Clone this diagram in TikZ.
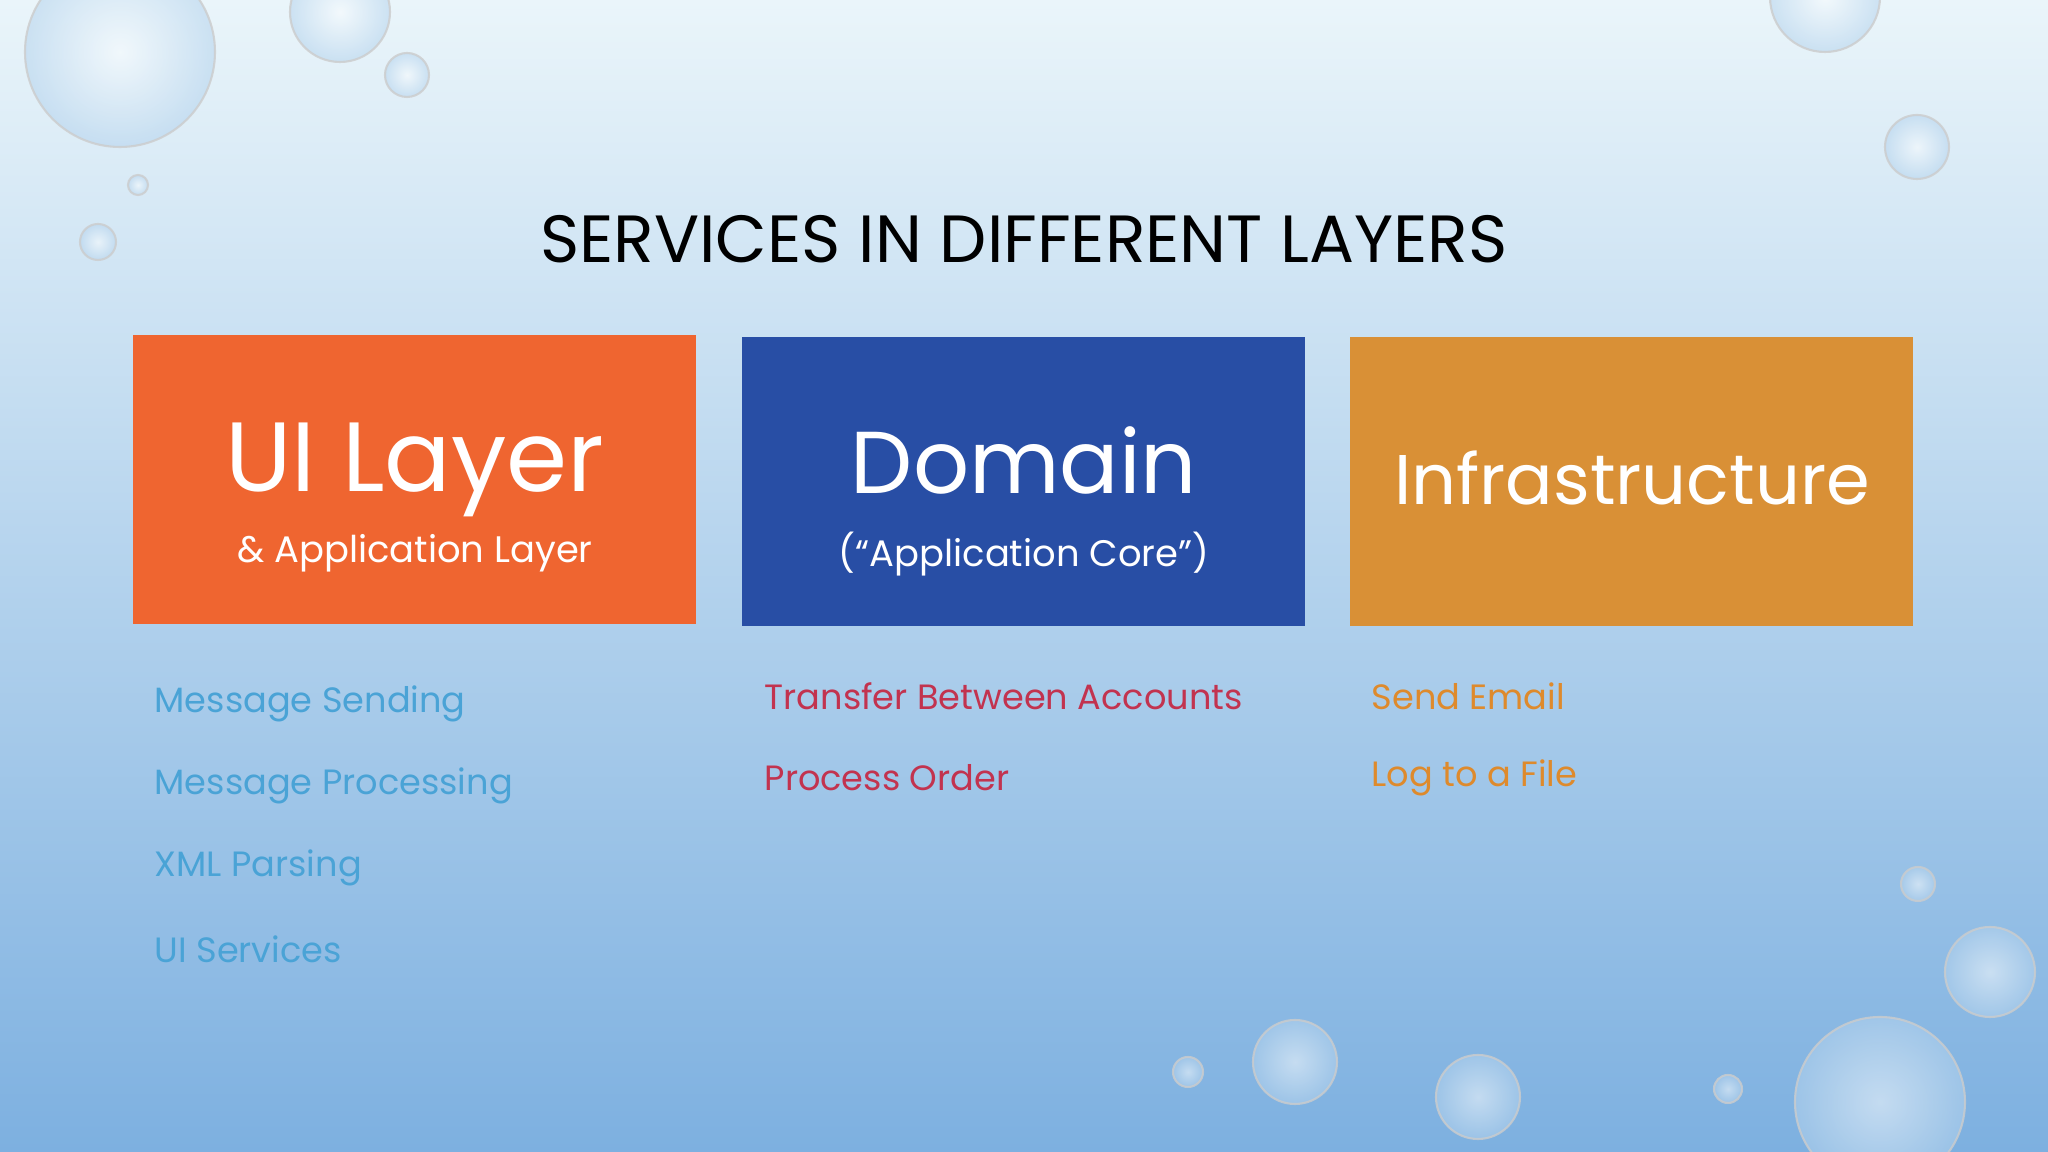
\documentclass[tikz,border=0pt]{standalone}
\usepackage{fontspec}
\setmainfont{Poppins}
\usetikzlibrary{shadings}
\definecolor{uiorange}{HTML}{EF6530}
\definecolor{dblue}{HTML}{284EA5}
\definecolor{infra}{HTML}{D99036}
\definecolor{bgtop}{HTML}{EAF5FA}
\definecolor{bgbot}{HTML}{7DB0E0}
\definecolor{itblue}{HTML}{4AA3D6}
\definecolor{itred}{HTML}{C2334F}
\definecolor{itorange}{HTML}{DE8A2C}
\tikzset{
 layerbox/.style={minimum width=5.63cm,minimum height=2.89cm,inner sep=0pt},
 big/.style={text=white},
 small/.style={text=white,font=\fontsize{10.5}{13}\selectfont},
 item/.style={anchor=west,inner sep=0pt,font=\fontsize{10}{12}\selectfont},
 drop/.style={draw=gray!40,line width=0.6pt,inner color=white!80!bgtop,outer color=bgtop!50!bgbot,fill opacity=0.55,draw opacity=0.8}
}
\begin{document}
\begin{tikzpicture}
\shade[top color=bgtop,bottom color=bgbot] (0,0) rectangle (20.48,11.52);
\useasboundingbox (0,0) rectangle (20.48,11.52);
% drops
\foreach \x/\y/\r in {1.2/11.0/0.95, 3.4/11.4/0.5, 4.07/10.77/0.22, 1.38/9.67/0.1, 0.98/9.1/0.18, 18.25/11.55/0.55, 19.17/10.05/0.32, 19.18/2.68/0.17, 19.9/1.8/0.45, 18.8/0.5/0.85, 12.95/0.9/0.42, 14.78/0.55/0.42, 11.88/0.8/0.15, 17.28/0.63/0.14}
  \shade[drop] (\x,\y) circle (\r);
\node[font=\fontsize{19}{23}\selectfont] (title) at (10.24,9.13) {SERVICES IN DIFFERENT LAYERS};
\node[layerbox,fill=uiorange] (ui) at (4.145,6.72) {};
\node[layerbox,fill=dblue] (dom) at (10.235,6.70) {};
\node[layerbox,fill=infra] (inf) at (16.315,6.70) {};
\node[big,font=\fontsize{28}{32}\selectfont] (uit) at (4.15,6.82) {UI Layer};
\node[small] (uis) at (4.15,5.99) {\& Application Layer};
\node[big,font=\fontsize{25}{30}\selectfont] (domt) at (10.24,6.92) {Domain};
\node[small] (doms) at (10.24,5.98) {(“Application Core”)};
\node[big,font=\fontsize{20}{24}\selectfont] (inft) at (16.32,6.74) {Infrastructure};
\node[item,text=itblue] (u1) at (1.54,4.48) {Message Sending};
\node[item,text=itblue] (u2) at (1.54,3.66) {Message Processing};
\node[item,text=itblue] (u3) at (1.54,2.84) {XML Parsing};
\node[item,text=itblue] (u4) at (1.54,2.03) {UI Services};
\node[item,text=itred] (d1) at (7.64,4.56) {Transfer Between Accounts};
\node[item,text=itred] (d2) at (7.64,3.74) {Process Order};
\node[item,text=itorange] (i1) at (13.71,4.56) {Send Email};
\node[item,text=itorange] (i2) at (13.71,3.74) {Log to a File};
\end{tikzpicture}
\end{document}
